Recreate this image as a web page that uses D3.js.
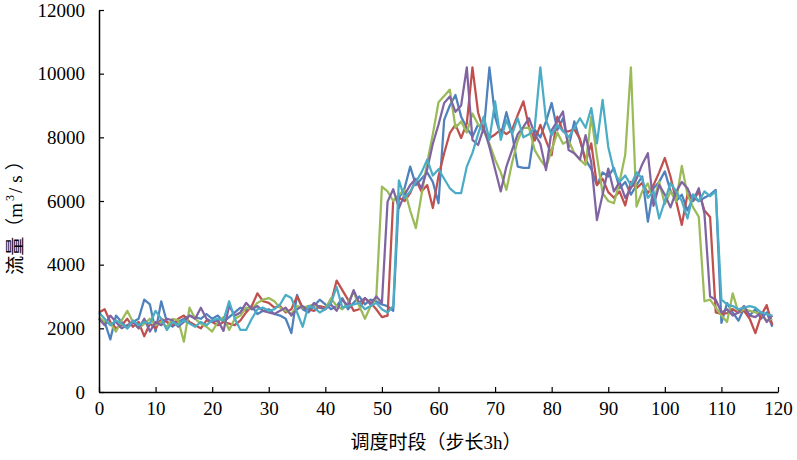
<!DOCTYPE html>
<html>
<head>
<meta charset="utf-8">
<script src="https://cdn.jsdelivr.net/npm/d3@7"></script>
<style>
  html, body { margin: 0; padding: 0; background: #fff; }
  svg { display: block; }
  .num { font-family: "Times New Roman", "Liberation Serif", "DejaVu Serif", serif; }
  .cjk { font-family: "Times New Roman", "Liberation Serif", "Noto Sans CJK SC", serif; }
</style>
</head>
<body>
<svg id="chart" width="797" height="460"></svg>
<script>
const xTicks = [0, 10, 20, 30, 40, 50, 60, 70, 80, 90, 100, 110, 120];
const yTicks = [0, 2000, 4000, 6000, 8000, 10000, 12000];
const xTitle = "调度时段（步长3h）";
const yTitleParts = ["流量（", "m", "3", "/s", "）"];
const seriesNames = ["blue", "red", "green", "purple", "cyan"];
const seriesColors = ["#4F81BD", "#C0504D", "#9BBB59", "#8064A2", "#4BACC6"];

const blueValues = [
  2300, 2200, 1650, 2400, 2200, 2000, 2200, 2300, 2900, 2750, 1900, 2850, 2200, 2050, 2200, 2300, 2400, 2350, 2300, 2450, 2300, 2400, 2200, 2350, 2500,
  2650, 2550, 2700, 2450, 2550, 2600, 2450, 2400, 2300, 1850, 3050, 2600, 2500, 2700, 2900, 2750, 2600, 2700, 2950, 2600, 2800, 3000, 2750, 2900, 2850,
  2750, 2700, 2550, 6100, 6400, 7080, 6500, 6700, 6900, 6600, 5930, 8550, 9000, 9330, 8650, 8300, 8020, 8400, 8200, 10200, 8650, 8050, 8790, 8130, 7080,
  7040, 7040, 8240, 8000, 8500, 9080, 8230, 8600, 7700, 8500, 7900, 7300, 7000, 6500, 6900, 6770, 7040, 6400, 6600, 6200, 6500, 6770, 5350, 6400, 6600,
  6930, 6320, 6000, 6200, 5700, 6100, 6000, 6100, 6200, 6350, 2170, 2790, 2500, 2240, 2630, 2400, 2600, 2300, 2500, 2050
];
const redValues = [
  2500, 2600, 2200, 2000, 2100, 2300, 2050, 2200, 1750, 2150, 2000, 2300, 2200, 2100, 2300, 2400, 2200, 2100, 2000, 2250, 2200, 2100, 2200, 2150, 2100,
  2250, 2500, 2700, 3100, 2850, 2800, 2650, 2700, 2500, 2600, 3000, 2650, 2600, 2550, 2700, 2650, 2800, 3500, 3200, 2900, 2550, 2600, 2950, 2800, 2600,
  2350, 2400, 6030, 6100, 6000, 6250, 6670, 6300, 6500, 5780, 6780, 7500, 8130, 8400, 7980, 8440, 10200, 8780, 8190, 7980, 8090, 8240, 8100, 8240, 8700,
  9130, 8320, 7900, 8390, 7900, 7440, 8650, 8190, 8190, 8250, 7950, 7230, 7810, 6500, 6700, 6280, 6100, 6300, 5860, 6600, 6400, 6570, 6250, 6500, 6900,
  7350, 6770, 6000, 5250, 6210, 6000, 6300, 5700, 5500, 2500, 2450, 2480, 2600, 2500, 2550, 2300, 1850, 2400, 2730, 2100
];
const greenValues = [
  2350, 2200, 2150, 1900, 2250, 2550, 2200, 2000, 2150, 2300, 2100, 2200, 2050, 2300, 2250, 1580, 2650, 2300, 2150, 2050, 1900, 2200, 2350, 1950, 2300,
  2400, 2650, 2600, 2800, 2900, 2950, 2850, 2650, 2550, 2450, 2700, 2650, 2700, 2750, 2650, 2600, 2950, 2700, 2600, 2800, 3150, 2700, 2300, 2700, 2950,
  6450, 6300, 6000, 6200, 6350, 5700, 5150, 6200, 7200, 8100, 9100, 9300, 9500, 8300, 8500, 8150, 8750, 8400, 8200, 7800, 7300, 6900, 6350, 7200, 7900,
  8300, 8300, 7600, 7300, 7050, 7600, 8150, 7800, 7900, 7500, 7300, 7130, 8650, 7400, 6250, 6000, 5930, 6600, 7450, 10200, 5820, 6300, 6550, 6000, 6600,
  5900, 6300, 6000, 7100, 6200, 5800, 5500, 2850, 2900, 2650, 2400, 2200, 3100, 2500, 2600, 2550, 2500, 2450, 2250, 2300
];
const purpleValues = [
  2300, 2100, 2400, 2200, 2000, 2100, 2200, 2000, 2300, 1900, 2200, 2100, 2300, 2250, 2050, 2200, 2400, 2300, 2650, 2300, 2200, 2250, 1920, 2700, 2400,
  2500, 2800, 2600, 2700, 2550, 2500, 2450, 2550, 2650, 2400, 2600, 2700, 2550, 2800, 2650, 2600, 2750, 2550, 2900, 2700, 3200, 2800, 2950, 2750, 3000,
  2800, 5980, 6370, 5780, 6200, 6500, 6700, 6400, 7000, 7800, 8400, 9080, 9280, 8800, 9000, 10200, 7920, 7760, 8300, 7700, 7000, 6300, 7080, 7600, 8100,
  8330, 8600, 8100, 7800, 6970, 8230, 8500, 8810, 7600, 7500, 7300, 8070, 7200, 5400, 6200, 7020, 6300, 6600, 6100, 6400, 6700, 7150, 7500, 5850, 6500,
  6200, 5800, 6300, 6600, 6400, 6000, 6400, 5600, 3000, 2900, 2500, 2600, 2400, 2500, 2700, 2400, 2350, 2500, 2200, 2400
];
const cyanValues = [
  2500, 2300, 2100, 2250, 2150, 2000, 2250, 2100, 2200, 2150, 2550, 2300, 1950, 2200, 2100, 2250, 2150, 2050, 2200, 2100, 2250, 2300, 2250, 2850, 2300,
  1950, 1950, 2300, 2600, 2650, 2550, 2600, 2750, 3050, 2950, 2500, 2050, 2700, 2650, 2500, 2600, 2800, 3300, 2650, 2700, 2750, 2800, 2600, 2700, 2800,
  2600, 2500, 2700, 6650, 6100, 6300, 6600, 6900, 7300, 6800, 7000, 6700, 6400, 6250, 6250, 7080, 7510, 8100, 8650, 7920, 9130, 7920, 8550, 8100, 8600,
  8000, 8100, 8300, 10200, 8550, 8070, 8390, 8200, 8000, 8300, 8600, 8300, 8920, 7810, 9180, 7700, 6940, 6600, 6800, 6500, 6900, 6700, 6100, 6300, 5450,
  6000, 6570, 6300, 6000, 5450, 6210, 5990, 6300, 6150, 6300, 2900, 2750, 2700, 2600, 2650, 2700, 2650, 2500, 2450, 2400
];
const allSeries = [blueValues, redValues, greenValues, purpleValues, cyanValues];

const svg = d3.select("#chart");
const mLeft = 99, mRight = 778, mTop = 10, mBottom = 392;
const x = d3.scaleLinear().domain([0, 120]).range([mLeft, mRight]);
const y = d3.scaleLinear().domain([0, 12000]).range([mBottom, mTop]);

const line = d3.line().x((d, i) => x(i)).y(d => y(d));
allSeries.forEach((vals, k) => {
  svg.append("path")
    .datum(vals)
    .attr("class", "series " + seriesNames[k])
    .attr("fill", "none")
    .attr("stroke", seriesColors[k])
    .attr("stroke-width", 2.25)
    .attr("stroke-linejoin", "round")
    .attr("d", line);
});

const yAxis = svg.append("g")
  .attr("transform", `translate(${mLeft},0)`)
  .call(d3.axisLeft(y).tickValues(yTicks).tickFormat(d3.format("d")).tickSizeInner(-5).tickSizeOuter(0).tickPadding(14));
const xAxis = svg.append("g")
  .attr("transform", `translate(0,${mBottom})`)
  .call(d3.axisBottom(x).tickValues(xTicks).tickFormat(d3.format("d")).tickSizeInner(-5).tickSizeOuter(0).tickPadding(10));
[xAxis, yAxis].forEach(g => {
  g.attr("font-family", null);
  g.select(".domain").attr("stroke", "#000").attr("stroke-width", 1.5);
  g.selectAll(".tick line").attr("stroke", "#000").attr("stroke-width", 1.2);
  g.selectAll(".tick text").attr("class", "num").attr("font-size", 19).attr("fill", "#000");
});

svg.append("text")
  .attr("class", "cjk")
  .attr("x", 436).attr("y", 449)
  .attr("text-anchor", "middle")
  .attr("font-size", 19).attr("fill", "#000")
  .text(xTitle);

const yt = svg.append("text")
  .attr("class", "cjk")
  .attr("transform", "translate(22,213) rotate(-90)")
  .attr("text-anchor", "middle")
  .attr("font-size", 19).attr("fill", "#000");
yt.append("tspan").text(yTitleParts[0]);
yt.append("tspan").attr("letter-spacing", 2).text(yTitleParts[1]);
yt.append("tspan").attr("font-size", 12).attr("dy", -8).text(yTitleParts[2]);
yt.append("tspan").attr("dy", 8).attr("dx", 2).attr("letter-spacing", 5).text(yTitleParts[3]);
yt.append("tspan").text(yTitleParts[4]);
</script>
</body>
</html>
